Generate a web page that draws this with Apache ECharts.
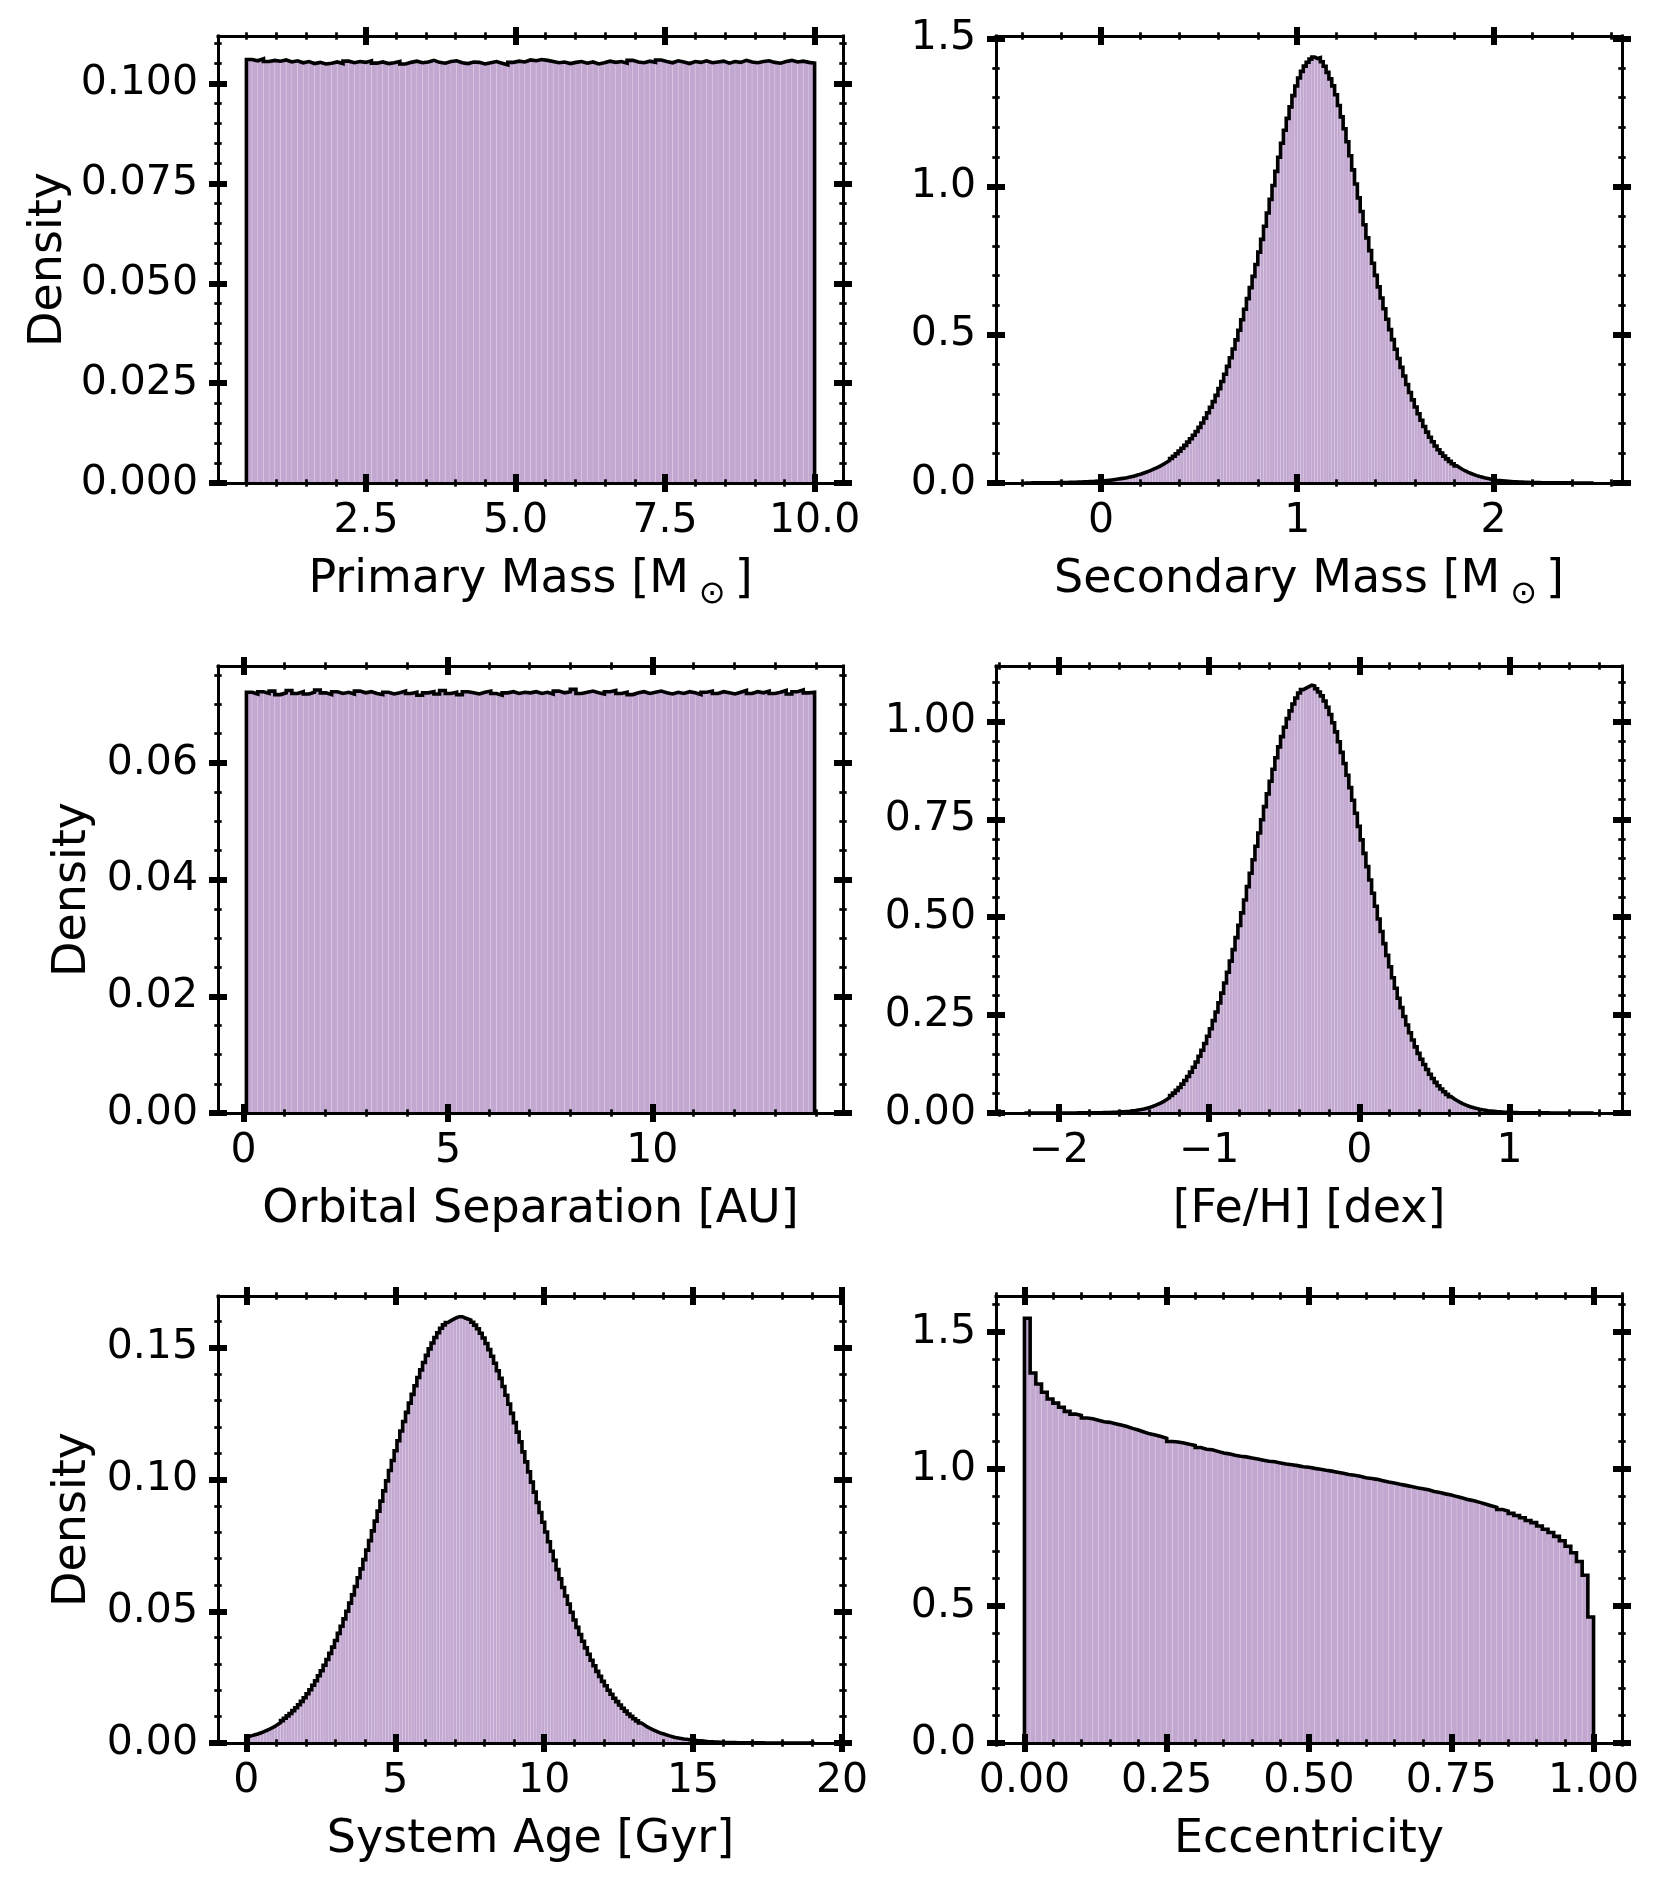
<!DOCTYPE html>
<html>
<head>
<meta charset="utf-8">
<title>Binary population distributions</title>
<script src="https://cdn.jsdelivr.net/npm/echarts@6.0.0/dist/echarts.min.js"></script>
<style>
  html, body { margin: 0; padding: 0; background: #fff; }
  #chart { width: 1660px; height: 1885px; }
</style>
</head>
<body>
<div id="chart"></div>
<script>
// ---- data (histogram densities) ----
const primaryMassRange = [0.5, 10];
const primaryMassDensity = [
  0.1060, 0.1057, 0.1062, 0.1055, 0.1058, 0.1056, 0.1059, 0.1054, 0.1057, 0.1052,
  0.1055, 0.1050, 0.1053, 0.1049, 0.1051, 0.1054, 0.1050, 0.1056, 0.1052, 0.1055,
  0.1053, 0.1057, 0.1051, 0.1054, 0.1050, 0.1052, 0.1055, 0.1049, 0.1053, 0.1056,
  0.1052, 0.1054, 0.1058, 0.1053, 0.1051, 0.1055, 0.1057, 0.1052, 0.1050, 0.1054,
  0.1053, 0.1049, 0.1052, 0.1055, 0.1051, 0.1047, 0.1053, 0.1056, 0.1054, 0.1059,
  0.1057, 0.1060, 0.1058, 0.1055, 0.1052, 0.1054, 0.1050, 0.1053, 0.1055, 0.1051,
  0.1054, 0.1049, 0.1052, 0.1056, 0.1053, 0.1055, 0.1051, 0.1058, 0.1054, 0.1052,
  0.1056, 0.1053, 0.1059, 0.1055, 0.1052, 0.1057, 0.1054, 0.1050, 0.1055, 0.1053,
  0.1057, 0.1052, 0.1054, 0.1056, 0.1051, 0.1055, 0.1053, 0.1058, 0.1054, 0.1052,
  0.1055, 0.1057, 0.1053, 0.1051, 0.1055, 0.1058, 0.1054, 0.1056, 0.1053, 0.1051
];

const secondaryMassRange = [-0.39, 2.51];
const secondaryMassDensity = [
  0.0002, 0.0002, 0.0003, 0.0003, 0.0004, 0.0005, 0.0006, 0.0008, 0.0009, 0.0010,
  0.0010, 0.0011, 0.0014, 0.0016, 0.0019, 0.0021, 0.0024, 0.0026, 0.0029, 0.0033,
  0.0038, 0.0043, 0.0048, 0.0053, 0.0058, 0.0063, 0.0068, 0.0075, 0.0085, 0.0095,
  0.0105, 0.0118, 0.0133, 0.0148, 0.0163, 0.0180, 0.0200, 0.0223, 0.0248, 0.0275,
  0.0305, 0.0338, 0.0373, 0.0410, 0.0450, 0.0493, 0.0538, 0.0588, 0.0643, 0.0700,
  0.0760, 0.0828, 0.0903, 0.0985, 0.1075, 0.1170, 0.1270, 0.1378, 0.1493, 0.1613,
  0.1738, 0.1875, 0.2025, 0.2190, 0.2370, 0.2555, 0.2745, 0.2955, 0.3185, 0.3423,
  0.3668, 0.3935, 0.4225, 0.4523, 0.4828, 0.5155, 0.5505, 0.5860, 0.6220, 0.6590,
  0.6970, 0.7370, 0.7790, 0.8220, 0.8660, 0.9110, 0.9570, 1.0038, 1.0513, 1.0988,
  1.1463, 1.1900, 1.2300, 1.2690, 1.3070, 1.3395, 1.3665, 1.3888, 1.4063, 1.4195,
  1.4300, 1.4370, 1.4320, 1.4350, 1.4210, 1.4058, 1.3853, 1.3633, 1.3398, 1.3098,
  1.2733, 1.2350, 1.1950, 1.1513, 1.1038, 1.0563, 1.0088, 0.9620, 0.9160, 0.8710,
  0.8270, 0.7838, 0.7413, 0.7005, 0.6615, 0.6240, 0.5880, 0.5525, 0.5175, 0.4838,
  0.4513, 0.4200, 0.3900, 0.3608, 0.3323, 0.3055, 0.2805, 0.2565, 0.2335, 0.2115,
  0.1905, 0.1715, 0.1545, 0.1390, 0.1250, 0.1123, 0.1008, 0.0905, 0.0815, 0.0730,
  0.0650, 0.0578, 0.0513, 0.0455, 0.0405, 0.0360, 0.0320, 0.0283, 0.0248, 0.0218,
  0.0193, 0.0170, 0.0150, 0.0130, 0.0110, 0.0095, 0.0085, 0.0075, 0.0065, 0.0056,
  0.0049, 0.0043, 0.0038, 0.0033, 0.0029, 0.0025, 0.0022, 0.0019, 0.0016, 0.0014,
  0.0012, 0.0010, 0.0009, 0.0008, 0.0007, 0.0006, 0.0005, 0.0005, 0.0004, 0.0004,
  0.0003, 0.0003, 0.0002, 0.0002, 0.0002, 0.0002, 0.0001, 0.0001, 0.0001, 0.0001
];

const separationRange = [0.07, 13.97];
const separationDensity = [
  0.0721, 0.0718, 0.0722, 0.0719, 0.0723, 0.0717, 0.0720, 0.0724, 0.0719, 0.0722,
  0.0718, 0.0721, 0.0725, 0.0720, 0.0717, 0.0722, 0.0719, 0.0721, 0.0718, 0.0723,
  0.0720, 0.0722, 0.0719, 0.0717, 0.0721, 0.0718, 0.0720, 0.0723, 0.0719, 0.0721,
  0.0716, 0.0720, 0.0722, 0.0718, 0.0724, 0.0719, 0.0721, 0.0717, 0.0722, 0.0720,
  0.0718, 0.0721, 0.0723, 0.0719, 0.0716, 0.0720, 0.0722, 0.0719, 0.0721, 0.0720,
  0.0722, 0.0719, 0.0721, 0.0718, 0.0723, 0.0720, 0.0722, 0.0726, 0.0719, 0.0721,
  0.0723, 0.0720, 0.0718, 0.0722, 0.0724, 0.0719, 0.0721, 0.0717, 0.0720, 0.0722,
  0.0719, 0.0721, 0.0723, 0.0720, 0.0718, 0.0721, 0.0719, 0.0722, 0.0720, 0.0717,
  0.0721, 0.0723, 0.0719, 0.0722, 0.0720, 0.0718, 0.0721, 0.0724, 0.0719, 0.0722,
  0.0720, 0.0723, 0.0719, 0.0721, 0.0724, 0.0718, 0.0722, 0.0725, 0.0720, 0.0721
];

const fehRange = [-2.23, 1.56];
const fehDensity = [
  0.0000, 0.0000, 0.0000, 0.0000, 0.0000, 0.0000, 0.0000, 0.0000, 0.0001, 0.0001,
  0.0001, 0.0001, 0.0001, 0.0001, 0.0001, 0.0001, 0.0001, 0.0001, 0.0002, 0.0002,
  0.0002, 0.0002, 0.0003, 0.0004, 0.0005, 0.0006, 0.0007, 0.0009, 0.0011, 0.0013,
  0.0016, 0.0019, 0.0023, 0.0028, 0.0033, 0.0039, 0.0046, 0.0055, 0.0065, 0.0077,
  0.0090, 0.0105, 0.0123, 0.0144, 0.0167, 0.0193, 0.0224, 0.0259, 0.0298, 0.0342,
  0.0391, 0.0447, 0.0508, 0.0577, 0.0653, 0.0738, 0.0831, 0.0933, 0.1044, 0.1168,
  0.1303, 0.1448, 0.1603, 0.1773, 0.1958, 0.2153, 0.2358, 0.2578, 0.2813, 0.3060,
  0.3320, 0.3593, 0.3878, 0.4173, 0.4478, 0.4790, 0.5110, 0.5440, 0.5780, 0.6123,
  0.6468, 0.6810, 0.7150, 0.7488, 0.7823, 0.8150, 0.8470, 0.8778, 0.9073, 0.9350,
  0.9610, 0.9850, 1.0070, 1.0268, 1.0443, 1.0595, 1.0725, 1.0810, 1.0850, 1.0888,
  1.0923, 1.0905, 1.0835, 1.0750, 1.0650, 1.0520, 1.0360, 1.0175, 0.9965, 0.9733,
  0.9478, 0.9208, 0.8923, 0.8623, 0.8308, 0.7985, 0.7655, 0.7318, 0.6973, 0.6630,
  0.6290, 0.5950, 0.5610, 0.5278, 0.4953, 0.4635, 0.4325, 0.4025, 0.3735, 0.3455,
  0.3185, 0.2930, 0.2690, 0.2463, 0.2248, 0.2048, 0.1863, 0.1688, 0.1523, 0.1373,
  0.1238, 0.1110, 0.0990, 0.0881, 0.0783, 0.0694, 0.0613, 0.0541, 0.0476, 0.0417,
  0.0366, 0.0319, 0.0278, 0.0241, 0.0208, 0.0180, 0.0155, 0.0133, 0.0114, 0.0097,
  0.0082, 0.0070, 0.0059, 0.0050, 0.0042, 0.0035, 0.0030, 0.0025, 0.0021, 0.0018,
  0.0015, 0.0012, 0.0010, 0.0008, 0.0007, 0.0006, 0.0005, 0.0004, 0.0003, 0.0003,
  0.0002, 0.0002, 0.0002, 0.0002, 0.0001, 0.0001, 0.0001, 0.0001, 0.0001, 0.0001,
  0.0000, 0.0000, 0.0000, 0.0000, 0.0000, 0.0000, 0.0000, 0.0000, 0.0000, 0.0000
];

const ageRange = [0, 19.08];
const ageDensity = [
  0.0025, 0.0028, 0.0031, 0.0034, 0.0038, 0.0042, 0.0047, 0.0052, 0.0057, 0.0063,
  0.0070, 0.0077, 0.0085, 0.0094, 0.0103, 0.0112, 0.0123, 0.0134, 0.0145, 0.0158,
  0.0172, 0.0187, 0.0202, 0.0219, 0.0236, 0.0255, 0.0274, 0.0295, 0.0317, 0.0340,
  0.0364, 0.0389, 0.0416, 0.0443, 0.0471, 0.0500, 0.0531, 0.0562, 0.0594, 0.0627,
  0.0661, 0.0696, 0.0732, 0.0768, 0.0805, 0.0842, 0.0880, 0.0918, 0.0957, 0.0995,
  0.1034, 0.1072, 0.1109, 0.1147, 0.1184, 0.1220, 0.1255, 0.1290, 0.1323, 0.1356,
  0.1387, 0.1416, 0.1444, 0.1471, 0.1496, 0.1518, 0.1539, 0.1557, 0.1574, 0.1587,
  0.1596, 0.1603, 0.1609, 0.1614, 0.1618, 0.1618, 0.1613, 0.1609, 0.1605, 0.1597,
  0.1586, 0.1572, 0.1555, 0.1537, 0.1516, 0.1493, 0.1468, 0.1441, 0.1413, 0.1384,
  0.1353, 0.1320, 0.1286, 0.1251, 0.1216, 0.1180, 0.1143, 0.1105, 0.1067, 0.1029,
  0.0990, 0.0952, 0.0913, 0.0875, 0.0838, 0.0801, 0.0764, 0.0728, 0.0693, 0.0658,
  0.0623, 0.0590, 0.0558, 0.0527, 0.0496, 0.0467, 0.0439, 0.0412, 0.0386, 0.0361,
  0.0337, 0.0314, 0.0293, 0.0272, 0.0253, 0.0234, 0.0217, 0.0200, 0.0185, 0.0170,
  0.0157, 0.0144, 0.0132, 0.0121, 0.0110, 0.0101, 0.0092, 0.0084, 0.0076, 0.0069,
  0.0062, 0.0056, 0.0051, 0.0046, 0.0041, 0.0037, 0.0034, 0.0030, 0.0027, 0.0024,
  0.0021, 0.0019, 0.0017, 0.0015, 0.0014, 0.0012, 0.0011, 0.0010, 0.0008, 0.0008,
  0.0007, 0.0006, 0.0005, 0.0005, 0.0004, 0.0004, 0.0003, 0.0003, 0.0002, 0.0002,
  0.0002, 0.0002, 0.0001, 0.0001, 0.0001, 0.0001, 0.0001, 0.0001, 0.0001, 0.0001,
  0.0001, 0.0001, 0.0000, 0.0000, 0.0000, 0.0000, 0.0000, 0.0000, 0.0000, 0.0000,
  0.0000, 0.0000, 0.0000, 0.0000, 0.0000, 0.0000, 0.0000, 0.0000, 0.0001, 0.0001
];

const eccentricityRange = [0, 1];
const eccentricityDensity = [
  1.550, 1.350, 1.310, 1.280, 1.255, 1.240, 1.225, 1.210, 1.200, 1.195,
  1.186, 1.183, 1.178, 1.172, 1.170, 1.165, 1.160, 1.155, 1.148, 1.142,
  1.135, 1.128, 1.124, 1.118, 1.112, 1.100, 1.098, 1.095, 1.090, 1.086,
  1.078, 1.072, 1.070, 1.064, 1.058, 1.055, 1.050, 1.046, 1.044, 1.040,
  1.036, 1.032, 1.028, 1.026, 1.022, 1.018, 1.015, 1.012, 1.008, 1.006,
  1.002, 0.999, 0.995, 0.992, 0.988, 0.984, 0.980, 0.977, 0.973, 0.968,
  0.965, 0.962, 0.957, 0.952, 0.949, 0.944, 0.940, 0.936, 0.931, 0.928,
  0.924, 0.918, 0.914, 0.909, 0.905, 0.899, 0.894, 0.888, 0.884, 0.878,
  0.872, 0.866, 0.860, 0.852, 0.846, 0.838, 0.830, 0.822, 0.812, 0.804,
  0.792, 0.780, 0.768, 0.754, 0.738, 0.718, 0.694, 0.662, 0.612, 0.460
];

// tick values
const primaryMassTicks = [2.5, 5.0, 7.5, 10.0];
const secondaryMassTicks = [0, 1, 2];
const separationTicks = [0, 5, 10];
const fehTicks = [-2, -1, 0, 1];
const ageTicks = [0, 5, 10, 15, 20];
const eccentricityTicks = [0, 0.25, 0.5, 0.75, 1.0];
const primaryDensityTicks = [0, 0.025, 0.05, 0.075, 0.1];
const secondaryDensityTicks = [0, 0.5, 1.0, 1.5];
const separationDensityTicks = [0, 0.02, 0.04, 0.06];
const fehDensityTicks = [0, 0.25, 0.5, 0.75, 1.0];
const ageDensityTicks = [0, 0.05, 0.1, 0.15];
const eccentricityDensityTicks = [0, 0.5, 1.0, 1.5];

const FONT = 'DejaVu Sans';
const FILL = '#c2a7d0';
const NAME_STYLE = {
  fontFamily: FONT, fontSize: 46, color: '#000', lineHeight: 56,
  rich: {
    sun: { fontFamily: FONT, fontSize: 32, color: '#000', lineHeight: 56, padding: [30, 9, 0, 10] }
  }
};

const minus = s => s.replace('-', '\u2212');

const panels = [
  {
    box: { left: 218, top: 36, width: 625, height: 447 },
    range: primaryMassRange, values: primaryMassDensity,
    xLim: [0.025, 10.475], yMax: 0.1119,
    xTicks: primaryMassTicks, xMinor: 0.5, yTicks: primaryDensityTicks, yMinor: 0.005,
    xFmt: v => v.toFixed(1), yFmt: v => v.toFixed(3),
    xName: 'Primary Mass [M{sun|⊙}]', yName: 'Density', yNameGap: 141
  },
  {
    box: { left: 996, top: 36, width: 626, height: 447 },
    range: secondaryMassRange, values: secondaryMassDensity,
    xLim: [-0.535, 2.655], yMax: 1.508,
    xTicks: secondaryMassTicks, xMinor: 0.2, yTicks: secondaryDensityTicks, yMinor: 0.1,
    xFmt: v => v.toFixed(0), yFmt: v => v.toFixed(1),
    xName: 'Secondary Mass [M{sun|⊙}]'
  },
  {
    box: { left: 218, top: 666, width: 625, height: 447 },
    range: separationRange, values: separationDensity,
    xLim: [-0.625, 14.665], yMax: 0.0766,
    xTicks: separationTicks, xMinor: 1, yTicks: separationDensityTicks, yMinor: 0.005,
    xFmt: v => v.toFixed(0), yFmt: v => v.toFixed(2),
    xName: 'Orbital Separation [AU]', yName: 'Density', yNameGap: 117
  },
  {
    box: { left: 996, top: 666, width: 626, height: 447 },
    range: fehRange, values: fehDensity,
    xLim: [-2.4195, 1.7495], yMax: 1.1414,
    xTicks: fehTicks, xMinor: 0.2, yTicks: fehDensityTicks, yMinor: 0.05,
    xFmt: v => minus(v.toFixed(0)), yFmt: v => v.toFixed(2),
    xName: '[Fe/H] [dex]'
  },
  {
    box: { left: 218, top: 1296, width: 625, height: 447 },
    range: ageRange, values: ageDensity,
    xLim: [-0.954, 20.034], yMax: 0.16965,
    xTicks: ageTicks, xMinor: 1, yTicks: ageDensityTicks, yMinor: 0.01,
    xFmt: v => v.toFixed(0), yFmt: v => v.toFixed(2),
    xName: 'System Age [Gyr]', yName: 'Density', yNameGap: 117
  },
  {
    box: { left: 996, top: 1296, width: 626, height: 447 },
    range: eccentricityRange, values: eccentricityDensity,
    xLim: [-0.05, 1.05], yMax: 1.631,
    xTicks: eccentricityTicks, xMinor: 0.05, yTicks: eccentricityDensityTicks, yMinor: 0.1,
    xFmt: v => v.toFixed(2), yFmt: v => v.toFixed(1),
    xName: 'Eccentricity'
  }
];

function minorList(min, max, step, majors) {
  const out = [];
  for (let k = Math.ceil(min / step - 1e-9); k * step <= max + 1e-9; k++) {
    const v = +(k * step).toFixed(6);
    if (!majors.some(m => Math.abs(m - v) < step / 10)) out.push(v);
  }
  return out;
}

// one axis per (side, major/minor, in/out) so ticks straddle the frame like matplotlib's "inout"
function makeAxes(dim, gi, min, max, majors, minorStep, fmt, name, nameGap) {
  const sides = dim === 'x' ? ['bottom', 'top'] : ['left', 'right'];
  const majorVals = majors.filter(v => v >= min - 1e-9 && v <= max + 1e-9);
  const minorVals = minorList(min, max, minorStep, majors);
  const axes = [];
  sides.forEach((side, si) => {
    [[majorVals, 9, 6], [minorVals, 3.7, 2.7]].forEach(([vals, len, w], ki) => {
      [false, true].forEach(inside => {
        const first = ki === 0 && !inside;
        const ax = {
          type: 'value', gridIndex: gi, position: side, min: min, max: max, z: 10,
          axisLine: { show: first, onZero: false, lineStyle: { color: '#000', width: 3, cap: 'square' } },
          axisTick: { show: true, inside: inside, length: len, customValues: vals,
                      lineStyle: { color: '#000', width: w } },
          axisLabel: { show: false },
          splitLine: { show: false },
          nameMoveOverlap: false
        };
        if (first && si === 0) {
          ax.axisLabel = {
            show: true, customValues: majorVals, formatter: fmt,
            margin: dim === 'x' ? 18 : 20,
            fontFamily: FONT, fontSize: 41, color: '#000'
          };
          if (name) {
            ax.name = name;
            ax.nameLocation = 'middle';
            ax.nameGap = nameGap;
            ax.nameTextStyle = NAME_STYLE;
          }
        }
        axes.push(ax);
      });
    });
  });
  return axes;
}

const option = {
  animation: false,
  backgroundColor: '#fff',
  grid: [], xAxis: [], yAxis: [], series: []
};

panels.forEach((p, gi) => {
  option.grid.push(Object.assign({ containLabel: false, outerBoundsMode: 'none' }, p.box));
  const xMain = option.xAxis.length;
  const yMain = option.yAxis.length;
  option.xAxis.push(...makeAxes('x', gi, p.xLim[0], p.xLim[1], p.xTicks, p.xMinor, p.xFmt, p.xName, 69));
  option.yAxis.push(...makeAxes('y', gi, 0, p.yMax, p.yTicks, p.yMinor, p.yFmt, p.yName, p.yNameGap));

  const n = p.values.length;
  const edges = [];
  for (let i = 0; i <= n; i++) edges.push(p.range[0] + (p.range[1] - p.range[0]) * i / n);
  const bins = p.values.map((v, i) => [edges[i], edges[i + 1], v]);

  option.series.push({
    type: 'custom', xAxisIndex: xMain, yAxisIndex: yMain, silent: true, z: 2,
    data: bins,
    encode: { x: [0, 1], y: 2 },
    renderItem: function (params, api) {
      const top = api.coord([api.value(0), api.value(2)]);
      const base = api.coord([api.value(1), 0]);
      return {
        type: 'rect',
        shape: { x: top[0], y: top[1], width: base[0] - top[0], height: base[1] - top[1] },
        style: { fill: FILL, stroke: 'rgba(255,255,255,0.12)', lineWidth: 1 }
      };
    }
  });

  // step outline of the histogram
  const outline = [[edges[0], 0]];
  p.values.forEach((v, i) => { outline.push([edges[i], v], [edges[i + 1], v]); });
  outline.push([edges[n], 0]);
  option.series.push({
    type: 'line', xAxisIndex: xMain, yAxisIndex: yMain, silent: true, z: 3,
    data: outline, symbol: 'none', showSymbol: false, clip: false,
    lineStyle: { color: '#000', width: 3.6, join: 'miter' }
  });
});

const chart = echarts.init(document.getElementById('chart'));
chart.setOption(option);

window.addEventListener('resize', function () {
  chart.resize();
});
</script>
</body>
</html>
